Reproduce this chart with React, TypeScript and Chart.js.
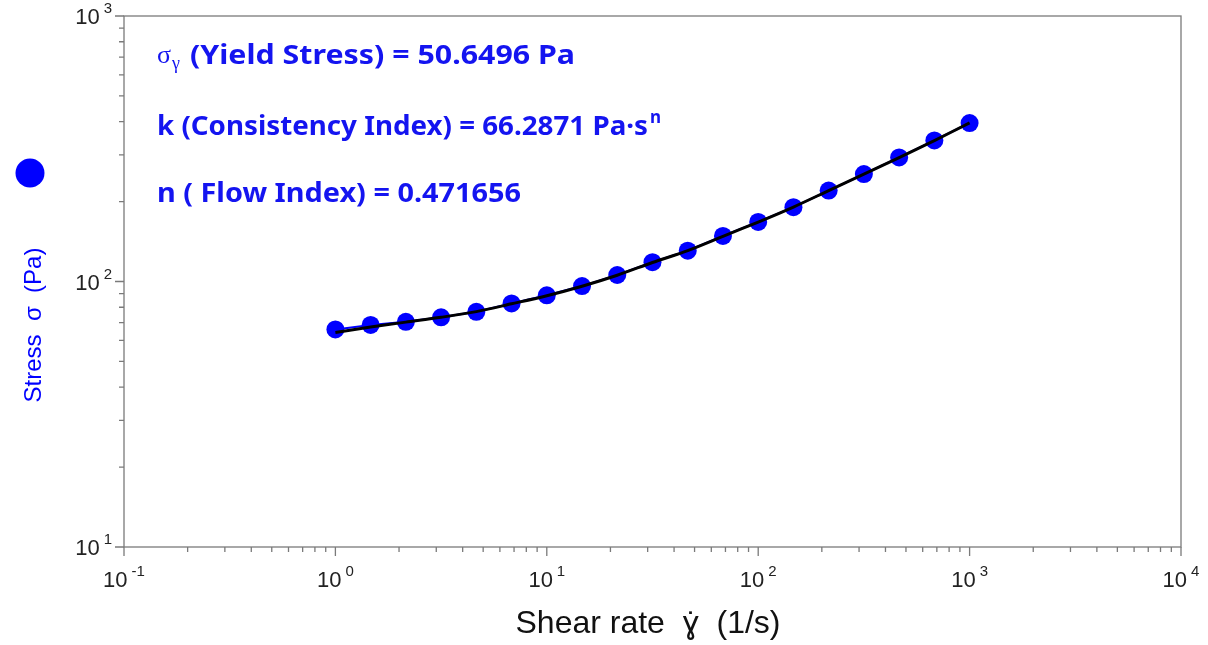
import React, { useEffect, useRef } from "react";
import { Chart, registerables } from "chart.js";

Chart.register(...registerables);

// ---- data ----
const SHEAR_RATE = [1, 1.468, 2.154, 3.162, 4.642, 6.813, 10, 14.68, 21.54, 31.62, 46.42, 68.13, 100, 146.8, 215.4, 316.2, 464.2, 681.3, 1000];
const STRESS = [66.0, 68.6, 70.5, 73.3, 76.9, 82.7, 88.7, 96.1, 105.8, 118.2, 130.6, 148.5, 167.7, 190.5, 220.1, 253.8, 293.3, 339.8, 395.3];
const FIT_STRESS = [64.3, 67.4, 70.3, 73.3, 77.0, 82.4, 88.4, 96.0, 105.6, 117.9, 130.8, 148.0, 167.5, 190.8, 220.0, 253.6, 293.0, 339.5, 396.0];
const X_DECADES = [-1, 0, 1, 2, 3, 4];
const Y_DECADES = [1, 2, 3];
const X_TITLE = "Shear rate  \u0263\u0307  (1/s)";
const Y_TITLE = "Stress  \u03c3  (Pa)";
const LINE1 = "(Yield Stress) = 50.6496 Pa";
const LINE2 = "k (Consistency Index) = 66.2871 Pa\u00b7s";
const LINE3 = "n ( Flow Index) = 0.471656";

const BLUE = "#0000ff";
const TEXT_BLUE = "#1414f0";
const AXIS = "#7a7a7a";
const LABEL = "#222222";
const SANS = "'Liberation Sans', Arial, sans-serif";
const BOLD = "'Noto Sans', 'Open Sans', sans-serif";

function powLabel(ctx: CanvasRenderingContext2D, exp: string, x: number, y: number, anchor: "center" | "right") {
  const big = `22px ${SANS}`;
  const small = `15px ${SANS}`;
  ctx.font = big;
  const wb = ctx.measureText("10").width;
  ctx.font = small;
  const we = ctx.measureText(exp).width;
  const gap = 4;
  const total = wb + gap + we;
  const left = anchor === "center" ? x - total / 2 : x - total;
  ctx.textAlign = "left";
  ctx.textBaseline = "alphabetic";
  ctx.fillStyle = LABEL;
  ctx.font = big;
  ctx.fillText("10", left, y);
  ctx.font = small;
  ctx.fillText(exp, left + wb + gap, y - 11);
}

// draw text squeezed/stretched horizontally to a target width
function fitText(ctx: CanvasRenderingContext2D, text: string, x: number, y: number, width: number) {
  const w = ctx.measureText(text).width;
  ctx.save();
  ctx.translate(x, y);
  ctx.scale(width / w, 1);
  ctx.fillText(text, 0, 0);
  ctx.restore();
}

const overlay = {
  id: "overlay",
  afterDraw(chart: any) {
    const { ctx, chartArea: a, scales } = chart;
    const x = scales.x;
    const y = scales.y;
    ctx.save();
    ctx.strokeStyle = AXIS;
    ctx.lineWidth = 1.3;
    ctx.strokeRect(a.left, a.top, a.right - a.left, a.bottom - a.top);
    ctx.beginPath();
    for (const e of X_DECADES) {
      for (let m = 1; m < 10; m++) {
        const v = m * Math.pow(10, e);
        if (v > x.max * 1.0001) break;
        const px = x.getPixelForValue(v);
        const len = m === 1 ? 9 : 5;
        ctx.moveTo(px, a.bottom);
        ctx.lineTo(px, a.bottom + len);
      }
    }
    for (const e of Y_DECADES) {
      for (let m = 1; m < 10; m++) {
        const v = m * Math.pow(10, e);
        if (v > y.max * 1.0001) break;
        const py = y.getPixelForValue(v);
        const len = m === 1 ? 9 : 5;
        ctx.moveTo(a.left - len, py);
        ctx.lineTo(a.left, py);
      }
    }
    ctx.stroke();

    for (const e of X_DECADES) {
      powLabel(ctx, String(e), x.getPixelForValue(Math.pow(10, e)), a.bottom + 40, "center");
    }
    for (const e of Y_DECADES) {
      powLabel(ctx, String(e), a.left - 12, y.getPixelForValue(Math.pow(10, e)) + 8, "right");
    }

    // axis titles
    ctx.fillStyle = "#111111";
    ctx.font = `32px ${SANS}`;
    ctx.textAlign = "center";
    ctx.textBaseline = "alphabetic";
    ctx.fillText(X_TITLE, 648, 633);

    ctx.save();
    ctx.translate(41, 325);
    ctx.rotate(-Math.PI / 2);
    ctx.fillStyle = BLUE;
    ctx.font = `24px ${SANS}`;
    ctx.fillText(Y_TITLE, 0, 0);
    ctx.restore();
    ctx.fillStyle = BLUE;
    ctx.beginPath();
    ctx.arc(30, 173, 14.5, 0, Math.PI * 2);
    ctx.fill();

    // parameter text
    const tx = 157;
    ctx.textAlign = "left";
    ctx.fillStyle = TEXT_BLUE;
    const bold = `bold 27px ${BOLD}`;

    ctx.font = `26px 'Liberation Serif', serif`;
    ctx.fillText("\u03c3", tx, 63);
    const ws = ctx.measureText("\u03c3").width;
    ctx.font = `18px 'Liberation Serif', serif`;
    ctx.fillText("\u03b3", tx + ws + 1, 69);

    ctx.font = bold;
    fitText(ctx, LINE1, 190, 64, 385);
    fitText(ctx, LINE2, tx, 135, 491);
    ctx.font = `bold 17px ${BOLD}`;
    ctx.fillText("n", tx + 493, 123);

    ctx.font = bold;
    fitText(ctx, LINE3, tx, 202, 364);
    ctx.restore();
  },
};

export default function App() {
  const ref = useRef<HTMLCanvasElement | null>(null);
  useEffect(() => {
    if (!ref.current) return;
    const chart = new Chart(ref.current, {
      type: "scatter",
      data: {
        datasets: [
          {
            label: "Fit",
            data: SHEAR_RATE.map((v, i) => ({ x: v, y: FIT_STRESS[i] })),
            showLine: true,
            borderColor: "#000000",
            borderWidth: 3,
            pointRadius: 0,
            tension: 0.3,
            order: 0,
          },
          {
            label: "Stress",
            data: SHEAR_RATE.map((v, i) => ({ x: v, y: STRESS[i] })),
            showLine: true,
            borderColor: BLUE,
            borderWidth: 2,
            backgroundColor: BLUE,
            pointBackgroundColor: BLUE,
            pointBorderWidth: 0,
            pointRadius: 9,
            order: 1,
          },
        ],
      },
      options: {
        animation: false,
        responsive: true,
        maintainAspectRatio: false,
        layout: { padding: { left: 124, right: 27, top: 16, bottom: 98 } },
        plugins: { legend: { display: false }, tooltip: { enabled: false } },
        scales: {
          x: { type: "logarithmic", min: 0.1, max: 10000, display: false },
          y: { type: "logarithmic", min: 10, max: 1000, display: false },
        },
      },
      plugins: [overlay],
    });
    return () => chart.destroy();
  }, []);
  return (
    <div style={{ position: "fixed", left: 0, top: 0, width: 1208, height: 645, background: "#fff" }}>
      <canvas ref={ref} />
    </div>
  );
}
